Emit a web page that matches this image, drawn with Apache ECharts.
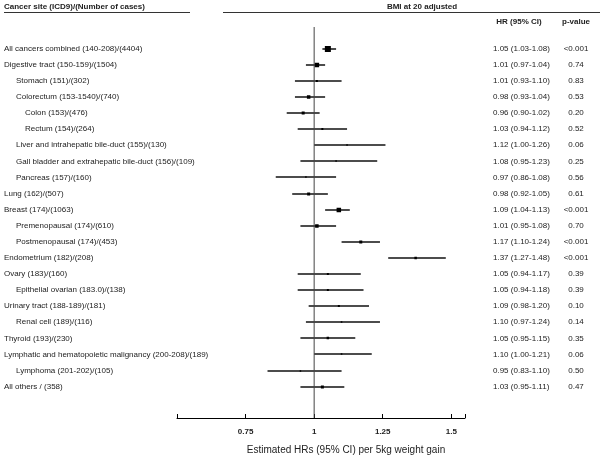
<!DOCTYPE html>
<html><head><meta charset="utf-8">
<script src="https://cdn.jsdelivr.net/npm/echarts@6/dist/echarts.min.js"></script>
<style>html,body{margin:0;padding:0;background:#fff}#c{width:600px;height:460px}</style>
</head><body><div id="c"></div>
<script>
// ---- data ----
const sites = [
  "All cancers combined (140-208)/(4404)",
  "Digestive tract (150-159)/(1504)",
  "Stomach (151)/(302)",
  "Colorectum (153-1540)/(740)",
  "Colon (153)/(476)",
  "Rectum (154)/(264)",
  "Liver and intrahepatic bile-duct (155)/(130)",
  "Gall bladder and extrahepatic bile-duct (156)/(109)",
  "Pancreas (157)/(160)",
  "Lung (162)/(507)",
  "Breast (174)/(1063)",
  "Premenopausal (174)/(610)",
  "Postmenopausal (174)/(453)",
  "Endometrium (182)/(208)",
  "Ovary (183)/(160)",
  "Epithelial ovarian (183.0)/(138)",
  "Urinary tract (188-189)/(181)",
  "Renal cell (189)/(116)",
  "Thyroid (193)/(230)",
  "Lymphatic and hematopoietic malignancy (200-208)/(189)",
  "Lymphoma (201-202)/(105)",
  "All others / (358)"
];
const hr    = [1.05,1.01,1.01,0.98,0.96,1.03,1.12,1.08,0.97,0.98,1.09,1.01,1.17,1.37,1.05,1.05,1.09,1.10,1.05,1.10,0.95,1.03];
const ciLow = [1.03,0.97,0.93,0.93,0.90,0.94,1.00,0.95,0.86,0.92,1.04,0.95,1.10,1.27,0.94,0.94,0.98,0.97,0.95,1.00,0.83,0.95];
const ciHigh= [1.08,1.04,1.10,1.04,1.02,1.12,1.26,1.23,1.08,1.05,1.13,1.08,1.24,1.48,1.17,1.18,1.20,1.24,1.15,1.21,1.10,1.11];
const pValues = ["<0.001","0.74","0.83","0.53","0.20","0.52","0.06","0.25","0.56","0.61","<0.001","0.70","<0.001","<0.001","0.39","0.39","0.10","0.14","0.35","0.06","0.50","0.47"];
const xTicks = [0.75, 1, 1.25, 1.5];

// ---- styling (indent level and box size per row) ----
const indentLevel = [0,0,1,1,2,2,1,1,1,0,0,1,1,0,0,1,0,1,0,0,1,0];
const boxPx = [6,4.5,2,3.5,3,2,1.5,1.5,1.5,3,4.5,3.5,3,2.5,2,2,2,1.5,2.5,1.5,1.5,3];
const indentX = [4, 16, 25];
const FONT = "'Liberation Sans', Arial, sans-serif";
const TXT = '#222';
const yMin = -1.35, yMax = 22.95;

const chart = echarts.init(document.getElementById('c'), null, {renderer: 'canvas'});

const ciData = hr.map((v, i) => [i, ciLow[i], ciHigh[i], v, boxPx[i]]);

chart.setOption({
  animation: false,
  backgroundColor: '#fff',
  textStyle: {fontFamily: FONT},
  grid: {left: 177, top: 27, width: 288, height: 391},
  xAxis: {
    type: 'value', min: 0.5, max: 1.55, interval: 0.25,
    axisLine: {onZero: false, lineStyle: {color: '#000', width: 1}},
    axisTick: {inside: true, length: 4, lineStyle: {color: '#000'}},
    axisLabel: {
      formatter: v => xTicks.some(t => Math.abs(t - v) < 1e-9) ? String(v) : '',
      fontWeight: 'bold', fontSize: 8, color: TXT, margin: 10, fontFamily: FONT
    },
    splitLine: {show: false},
    name: 'Estimated HRs (95% CI) per 5kg weight gain',
    nameLocation: 'middle', nameGap: 27,
    nameTextStyle: {fontSize: 10, color: TXT, padding: [0, 0, 0, 50], fontFamily: FONT}
  },
  yAxis: {type: 'value', inverse: true, min: yMin, max: yMax, show: false},
  series: [
    {
      type: 'line', silent: true, symbol: 'none',
      data: [[1, yMin], [1, yMax]],
      lineStyle: {color: '#444', width: 1}
    },
    {
      type: 'custom', silent: true,
      data: ciData,
      encode: {x: [1, 2, 3], y: 0},
      renderItem: function (params, api) {
        const y = api.value(0);
        const p1 = api.coord([api.value(1), y]);
        const p2 = api.coord([api.value(2), y]);
        const pc = api.coord([api.value(3), y]);
        const s = api.value(4);
        const yy = Math.round(pc[1]);
        return {type: 'group', children: [
          {type: 'line', shape: {x1: p1[0], y1: yy, x2: p2[0], y2: yy}, style: {stroke: '#111', lineWidth: 1.5}},
          {type: 'rect', shape: {x: pc[0] - s / 2, y: yy - s / 2, width: s, height: s}, style: {fill: '#000'}}
        ]};
      }
    }
  ]
});

const gfx = [];
// header
gfx.push({type: 'text', left: 4, top: 3, style: {text: 'Cancer site (ICD9)/(Number of cases)', font: 'bold 8px ' + FONT, fill: TXT}});
gfx.push({type: 'line', shape: {x1: 4, y1: 12.5, x2: 190, y2: 12.5}, style: {stroke: '#333', lineWidth: 1}});
gfx.push({type: 'line', shape: {x1: 223, y1: 12.5, x2: 600, y2: 12.5}, style: {stroke: '#333', lineWidth: 1}});
gfx.push({type: 'text', x: 422, y: 7, style: {text: 'BMI at 20 adjusted', font: 'bold 8px ' + FONT, fill: TXT, align: 'center', verticalAlign: 'middle'}});
gfx.push({type: 'text', x: 519, y: 22, style: {text: 'HR (95% CI)', font: 'bold 8px ' + FONT, fill: TXT, align: 'center', verticalAlign: 'middle'}});
gfx.push({type: 'text', x: 576, y: 22, style: {text: 'p-value', font: 'bold 8px ' + FONT, fill: TXT, align: 'center', verticalAlign: 'middle'}});

sites.forEach((name, i) => {
  const y = chart.convertToPixel({gridIndex: 0}, [1, i])[1];
  gfx.push({type: 'text', x: indentX[indentLevel[i]], y: y, style: {text: name, font: '8px ' + FONT, fill: TXT, align: 'left', verticalAlign: 'middle'}});
  const hrTxt = hr[i].toFixed(2) + ' (' + ciLow[i].toFixed(2) + '-' + ciHigh[i].toFixed(2) + ')';
  gfx.push({type: 'text', x: 493, y: y, style: {text: hrTxt, font: '8px ' + FONT, fill: TXT, align: 'left', verticalAlign: 'middle'}});
  gfx.push({type: 'text', x: 576, y: y, style: {text: pValues[i], font: '8px ' + FONT, fill: TXT, align: 'center', verticalAlign: 'middle'}});
});

chart.setOption({graphic: gfx});
</script>
</body></html>
